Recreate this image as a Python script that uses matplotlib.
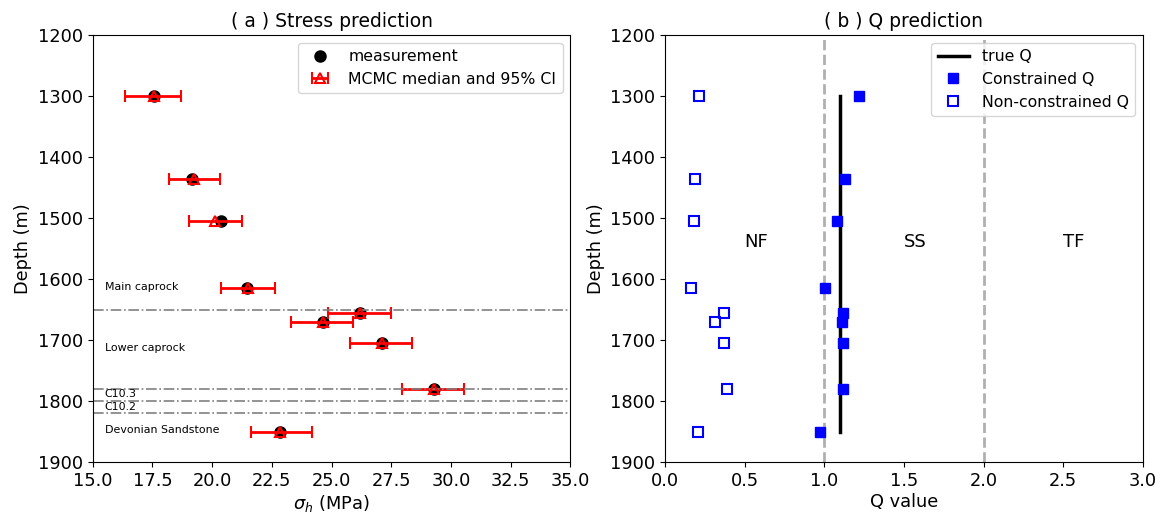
import matplotlib
matplotlib.use("Agg")
import matplotlib.pyplot as plt

# depths of the stress measurements (m)
depth = [1300, 1436, 1505, 1615, 1656, 1670, 1705, 1780, 1850]

# measured minimum horizontal stress (MPa)
sh_meas = [17.58, 19.15, 20.35, 21.45, 26.21, 24.65, 27.11, 29.29, 22.82]
# MCMC median and 95% credible interval bounds (MPa)
sh_median = [17.55, 19.26, 20.14, 21.49, 26.21, 24.65, 27.11, 29.29, 22.86]
sh_low = [16.37, 18.18, 19.02, 20.35, 24.86, 23.31, 25.75, 27.95, 21.61]
sh_high = [18.70, 20.33, 21.23, 22.63, 27.47, 25.91, 28.38, 30.54, 24.19]

# formation tops and labels
boundaries = [1650, 1780, 1800, 1820]
formations = ["Main caprock", "Lower caprock", "C10.3", "C10.2", "Devonian Sandstone"]
formation_depth = [1613, 1713, 1789, 1809, 1848]

# stress ratio Q
q_true = 1.1
q_constrained = [1.219, 1.127, 1.080, 1.005, 1.118, 1.112, 1.116, 1.118, 0.973]
q_free = [0.216, 0.191, 0.180, 0.164, 0.369, 0.315, 0.369, 0.388, 0.210]

# faulting regimes
regime_bounds = [1.0, 2.0]
regimes = ["NF", "SS", "TF"]
regime_x = [0.5, 1.5, 2.5]

plt.rcParams["font.size"] = 12.8
plt.rcParams["legend.fontsize"] = 11.3

fig, (ax_s, ax_q) = plt.subplots(1, 2, figsize=(11.59, 5.14), dpi=100)
fig.subplots_adjust(left=0.080, right=0.986, top=0.932, bottom=0.101, wspace=0.198)

# ---- stress
ax_s.plot(sh_meas, depth, "o", color="black", ms=8, label="measurement")
xerr = [[m - lo for m, lo in zip(sh_median, sh_low)],
        [hi - m for m, hi in zip(sh_median, sh_high)]]
ax_s.errorbar(sh_median, depth, xerr=xerr, fmt="^", color="red", mfc="none",
              mec="red", ms=7, mew=1.5, lw=2, capsize=4, capthick=2,
              label="MCMC median and 95% CI")
for b in boundaries:
    ax_s.axhline(b, color="gray", ls="-.", lw=1.2)
for name, d in zip(formations, formation_depth):
    ax_s.text(15.5, d, name, fontsize=7.9, va="center", ha="left")

ax_s.set_xlim(15, 35)
ax_s.set_ylim(1900, 1200)
ax_s.set_xlabel(r"$\sigma_h$ (MPa)", labelpad=2)
ax_s.set_ylabel("Depth (m)")
ax_s.set_title("( a ) Stress prediction", fontsize=13.5)
ax_s.legend(loc="upper right")

# ---- Q
for b in regime_bounds:
    ax_q.axvline(b, color="#b0b0b0", ls="--", lw=2)
ax_q.plot([q_true, q_true], [depth[0], depth[-1]], color="black", lw=2.5, label="true Q")
ax_q.plot(q_constrained, depth, "s", color="blue", ms=7.5, ls="none", label="Constrained Q")
ax_q.plot(q_free, depth, "s", mfc="none", mec="blue", mew=1.5, ms=7.5, ls="none",
          label="Non-constrained Q")
for name, x in zip(regimes, regime_x):
    ax_q.text(x, 1540, name, fontsize=13, ha="left", va="center")

ax_q.set_xlim(0, 3)
ax_q.set_ylim(1900, 1200)
ax_q.set_xlabel("Q value", labelpad=2)
ax_q.set_ylabel("Depth (m)")
ax_q.set_title("( b ) Q prediction", fontsize=13.5)
ax_q.legend(loc="upper right")

fig.savefig("out.png")
